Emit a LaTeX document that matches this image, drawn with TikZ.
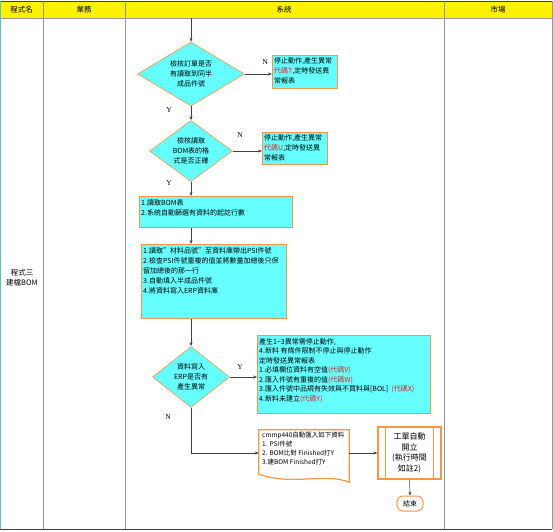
\documentclass[tikz,border=0pt]{standalone}
\usepackage{fontspec}
\setmainfont{Noto Sans CJK TC}
\newfontfamily\latserif{Liberation Serif}
\usetikzlibrary{shapes.geometric,arrows.meta}
\definecolor{orng}{RGB}{247,150,70}
\definecolor{cyanf}{RGB}{102,255,255}
\definecolor{lineg}{RGB}{64,64,64}
\definecolor{gridg}{RGB}{150,150,150}
\definecolor{hdrline}{RGB}{70,70,30}
\definecolor{redt}{RGB}{220,30,30}
\newcommand{\rc}[1]{\textcolor{redt}{#1}}
\begin{document}
\begin{tikzpicture}[x=1pt,y=-1pt,
  font=\fontsize{7}{10}\selectfont,
  procbox/.style={draw=orng, fill=cyanf, line width=0.8pt, anchor=north west, inner sep=0pt},
  proctext/.style={align=left, anchor=north west, inner sep=0pt},
  decbox/.style={diamond, draw=orng, fill=cyanf, line width=0.6pt, align=center, inner sep=0pt},
  flow/.style={draw=lineg, line width=0.5pt, -{Stealth[length=4pt,width=3pt]}},
  lbl/.style={font=\latserif\fontsize{7.5}{8}\selectfont, inner sep=0pt},
  hdr/.style={font=\fontsize{7.5}{9}\selectfont, inner sep=0pt}]
\useasboundingbox (0,0) rectangle (553,531);
% table
\fill[yellow] (0,1) rectangle (552,18);
\draw[gridg, line width=0.6pt] (0,18) -- (552,18);
\draw[hdrline, line width=1pt] (0,1) -- (552,1);
\draw[gridg, line width=0.6pt] (43,1) -- (43,529) (125,1) -- (125,529) (444,1) -- (444,529) (552,1) -- (552,529);
\draw[gridg!60!cyan, line width=0.6pt] (0.5,1) -- (0.5,529);
\draw[lineg, line width=1pt] (0,529) -- (552,529);
\node[hdr] (h1) at (21.5,10) {程式名};
\node[hdr] (h2) at (84,10) {業務};
\node[hdr] (h3) at (284,10) {系統};
\node[hdr] (h4) at (498,10) {市場};
\node[align=center, font=\fontsize{7.5}{10}\selectfont, inner sep=0pt] (prog) at (22,278) {程式三\\建檔BOM};
\coordinate (start) at (191,18);
% decisions
\node[decbox, minimum width=107pt, minimum height=64pt, aspect=1.67] (d1) at (191,74) {檢核訂單是否\\有讀取到同半\\成品件號};
\node[decbox, minimum width=83pt, minimum height=61pt, aspect=1.36] (d2) at (191,151) {檢核讀取\\BOM表的格\\式是否正確};
\node[decbox, minimum width=77pt, minimum height=61pt, aspect=1.26] (d3) at (191,377) {資料寫入\\ERP是否有\\產生異常};
% boxes
\node[procbox, minimum width=65pt, minimum height=33pt] (b1) at (272,55) {};
\node[proctext] (t1) at (274,57) {停止動作,產生異常\\\rc{代碼T},定時發送異\\常報表};
\node[procbox, minimum width=65pt, minimum height=32pt] (b2) at (262,132) {};
\node[proctext] (t2) at (264,134) {停止動作,產生異常\\\rc{代碼U},定時發送異\\常報表};
\node[procbox, minimum width=153pt, minimum height=31pt] (b3) at (139,196) {};
\node[proctext] (t3) at (141,199) {1.讀取BOM表\\2.系統自動篩選有資料的起訖行數};
\node[procbox, minimum width=145pt, minimum height=74pt] (b4) at (141,244) {};
\node[proctext] (t4) at (143,247) {1.讀取"材料品號"至資料庫帶出PSI件號\\2.檢查PSI件號重複的值並將數量加總後只保\\留加總後的那一行\\3.自動填入半成品件號\\4.將資料寫入ERP資料庫};
\node[procbox, minimum width=173pt, minimum height=78pt] (b5) at (257,335) {};
\node[proctext, font=\fontsize{7}{9.5}\selectfont] (t5) at (259,338) {產生1\textasciitilde3異常需停止動作,\\4.新料 有條件限制不停止與停止動作\\定時發送異常報表\\1.必填欄位資料有空值\rc{(代碼V)}\\2.匯入件號有重複的值\rc{(代碼W)}\\3.匯入件號中品規有失效與不買料與[BOL]\ \ \rc{(代碼X)}\\4.新料未建立\rc{(代碼Y)}};
% document shape
\node[minimum width=90pt, minimum height=46pt, inner sep=0pt] (doc) at (304,453) {};
\fill[white] (doc.north west) -- (doc.north east) -- ([yshift=-6pt]doc.south east) .. controls +(-25,-10) and +(35,12) .. ([yshift=2pt]doc.south west) -- cycle;
\draw[orng, line width=1.2pt] (doc.north west) -- (doc.north east) -- ([yshift=-6pt]doc.south east) .. controls +(-25,-10) and +(35,12) .. ([yshift=2pt]doc.south west) -- cycle;
\node[proctext, font=\fontsize{6.5}{9}\selectfont] (t6) at (262,432) {cmmp440自動匯入如下資料\\1. PSI件號\\2. BOM比對 Finished打Y\\3.建BOM Finished打Y};
% predefined process
\node[draw=orng, fill=white, line width=1.2pt, minimum width=63pt, minimum height=52pt, inner sep=0pt, align=center, font=\fontsize{8}{10.5}\selectfont] (pp) at (409.5,453) {工單自動\\開立\\(執行時間\\如註2)};
\draw[orng, line width=1.2pt] ([xshift=8pt]pp.north west) -- ([xshift=8pt]pp.south west) ([xshift=-8pt]pp.north east) -- ([xshift=-8pt]pp.south east);
% terminator
\node[draw=orng, fill=white, line width=1pt, rounded corners=6pt, minimum width=26pt, minimum height=15pt, inner sep=0pt] (end) at (410,503.5) {結束};
% connectors
\draw[flow] (start) -- (d1.north);
\draw[flow] (d1.east) -- (d1.east -| b1.west);
\draw[flow] (d1.south) -- (d2.north);
\draw[flow] (d2.east) -- (d2.east -| b2.west);
\draw[flow] (d2.south) -- (d2.south |- b3.north);
\draw[flow] (d2.south |- b3.south) -- (d2.south |- b4.north);
\draw[flow] (d3.north |- b4.south) -- (d3.north);
\draw[flow] (d3.east) -- (d3.east -| b5.west);
\draw[flow] (d3.south) |- (doc.west);
\draw[flow] (doc.east) -- (pp.west);
\draw[flow] (pp.south) -- (end.north);
% labels
\node[lbl] (n1) at (265,62) {N};
\node[lbl] (y1) at (169,110) {Y};
\node[lbl] (n2) at (240,135) {N};
\node[lbl] (y2) at (169,183) {Y};
\node[lbl] (y3) at (240,367) {Y};
\node[lbl] (n3) at (168,417) {N};
\end{tikzpicture}
\end{document}
